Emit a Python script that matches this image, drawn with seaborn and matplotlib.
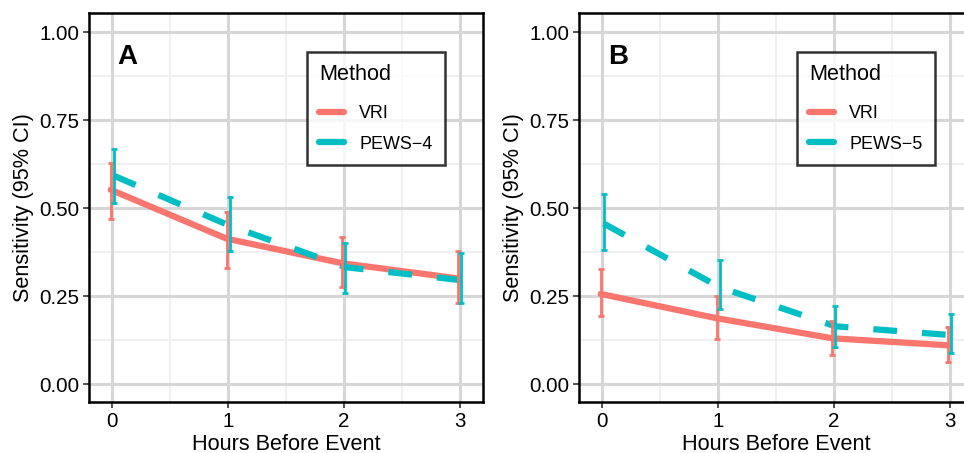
import numpy as np
import pandas as pd
import seaborn as sns
import matplotlib
matplotlib.use("Agg")
import matplotlib.pyplot as plt

hours = [0, 1, 2, 3]
# Panel A
vri_a = [0.552, 0.413, 0.343, 0.300]
vri_a_lo = [0.470, 0.331, 0.275, 0.229]
vri_a_hi = [0.629, 0.490, 0.419, 0.377]
pews4 = [0.592, 0.450, 0.332, 0.295]
pews4_lo = [0.513, 0.377, 0.258, 0.229]
pews4_hi = [0.668, 0.530, 0.402, 0.371]
# Panel B
vri_b = [0.256, 0.187, 0.130, 0.110]
vri_b_lo = [0.193, 0.127, 0.082, 0.062]
vri_b_hi = [0.326, 0.249, 0.178, 0.161]
pews5 = [0.456, 0.275, 0.164, 0.139]
pews5_lo = [0.382, 0.212, 0.105, 0.088]
pews5_hi = [0.541, 0.351, 0.221, 0.198]

RED = "#F8766D"
TEAL = "#00BFC4"
DODGE = 0.013

sns.set_theme(style="white")
plt.rcParams['font.family'] = ['Liberation Sans', 'DejaVu Sans']
plt.rcParams['text.color'] = 'black'
plt.rcParams['axes.labelcolor'] = 'black'

fig = plt.figure(figsize=(9.64, 4.53), dpi=100)
W, H = 964, 453
axA = fig.add_axes([89 / W, 1 - 402 / H, 394 / W, 389 / H])
axB = fig.add_axes([579 / W, 1 - 402 / H, 394 / W, 389 / H])

panels = [
    (axA, "A", "PEWS\u22124", vri_a, vri_a_lo, vri_a_hi, pews4, pews4_lo, pews4_hi),
    (axB, "B", "PEWS\u22125", vri_b, vri_b_lo, vri_b_hi, pews5, pews5_lo, pews5_hi),
]

for ax, lab, pname, v, vlo, vhi, p, plo, phi in panels:
    df = pd.DataFrame({
        "Hours": [h - DODGE for h in hours] + [h + DODGE for h in hours],
        "Sens": v + p,
        "lo": vlo + plo,
        "hi": vhi + phi,
        "Method": ["VRI"] * 4 + [pname] * 4,
    })
    # grid
    for xm in [0.5, 1.5, 2.5]:
        ax.axvline(xm, color="#eeeeee", lw=1.2, zorder=0)
    for ym in [0.125, 0.375, 0.625, 0.875]:
        ax.axhline(ym, color="#eeeeee", lw=1.2, zorder=0)
    for xm in hours:
        ax.axvline(xm, color="#d6d6d6", lw=2.2, zorder=0)
    for ym in [0, 0.25, 0.5, 0.75, 1.0]:
        ax.axhline(ym, color="#d6d6d6", lw=2.2, zorder=0)

    sns.lineplot(data=df, x="Hours", y="Sens", hue="Method", style="Method",
                 palette={"VRI": RED, pname: TEAL},
                 dashes={"VRI": "", pname: (3.8, 4.0)},
                 linewidth=4.5, ax=ax, zorder=3, legend=True)
    for meth, col in [("VRI", RED), (pname, TEAL)]:
        d = df[df.Method == meth]
        ax.errorbar(d.Hours, d.Sens, yerr=[d.Sens - d.lo, d.hi - d.Sens],
                    fmt="none", ecolor=col, elinewidth=2.0, capsize=2.2,
                    capthick=2.0, zorder=4)

    ax.set_xlim(-0.2, 3.2)
    ax.set_ylim(-0.051, 1.054)
    ax.set_xticks(hours)
    ax.set_yticks([0, 0.25, 0.5, 0.75, 1.0])
    ax.set_yticklabels(["0.00", "0.25", "0.50", "0.75", "1.00"])
    ax.tick_params(axis="both", which="major", length=4, width=1.2,
                   color="#333333", labelsize=14.8, labelcolor="black", pad=3)
    ax.tick_params(bottom=True, left=True)
    ax.set_xlabel("Hours Before Event", fontsize=15.6, labelpad=2, color="black")
    ax.set_ylabel("Sensitivity (95% CI)", fontsize=15.6, labelpad=4, color="black")
    for s in ax.spines.values():
        s.set_color("black")
        s.set_linewidth(1.8)
    ax.grid(False)
    ax.text(0.073, 0.887, lab, transform=ax.transAxes, fontsize=20,
            fontweight="bold", va="center", ha="left", color="black")

    leg = ax.legend(title="Method", loc="upper right",
                    bbox_to_anchor=(0.904, 0.9), fontsize=12.9,
                    title_fontsize=15.6, frameon=True, fancybox=False,
                    handlelength=1.4, borderpad=0.7, labelspacing=0.75,
                    handletextpad=0.85, alignment="left", borderaxespad=0,
                    labelcolor="black")
    leg.get_title().set_color("black")
    leg._legend_box.sep = leg._legend_box.sep + 4.5
    leg.get_frame().set_edgecolor("black")
    leg.get_frame().set_linewidth(1.8)
    for h in leg.get_lines():
        h.set_linewidth(4.5)
        h.set_linestyle("-")

fig.savefig("out.png", dpi=100)
